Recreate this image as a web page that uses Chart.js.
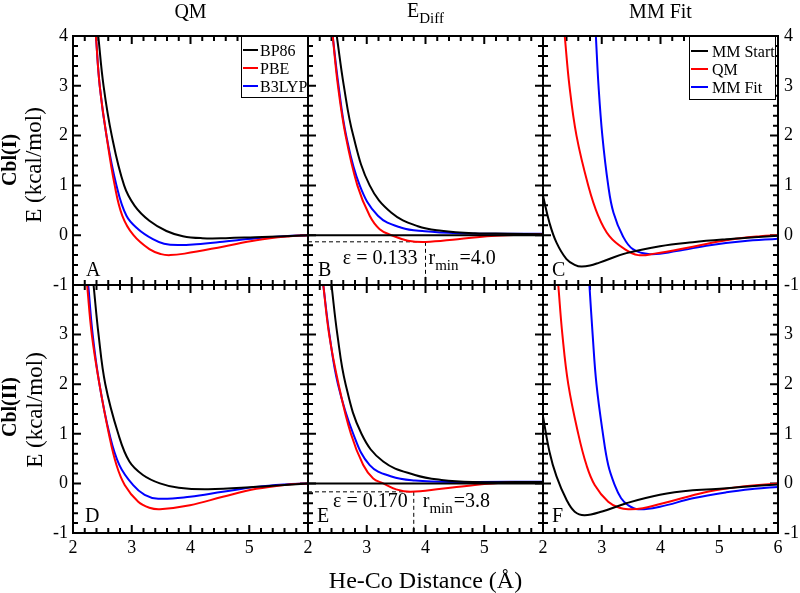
<!DOCTYPE html>
<html><head><meta charset="utf-8">
<script src="https://cdn.jsdelivr.net/npm/chart.js@4/dist/chart.umd.min.js"></script>
<style>
html,body{margin:0;padding:0;background:#fff;}
#wrap{position:relative;width:800px;height:593px;overflow:hidden;font-family:'Liberation Serif','Times New Roman',serif;color:#000;background:#fff;}
#wrap canvas{position:absolute;left:0;top:0;}
.t{position:absolute;white-space:nowrap;line-height:1;}
</style></head><body>
<div id="wrap">
<canvas id="c0" width="800" height="593"></canvas>
<canvas id="c1" width="800" height="593"></canvas>
<canvas id="c2" width="800" height="593"></canvas>
<canvas id="c3" width="800" height="593"></canvas>
<canvas id="c4" width="800" height="593"></canvas>
<canvas id="c5" width="800" height="593"></canvas>
<div class="t" style="left:190.5px;top:1px;font-size:20px;transform:translateX(-50%)">QM</div>
<div class="t" style="left:425.5px;top:0px;font-size:20px;transform:translateX(-50%)">E<span style="font-size:15px;position:relative;top:6px">Diff</span></div>
<div class="t" style="left:660.5px;top:1px;font-size:20px;transform:translateX(-50%)">MM Fit</div>
<div class="t" style="left:9px;top:160px;font-size:20px;font-weight:bold;transform:translate(-50%,-50%) rotate(-90deg)">Cbl(I)</div>
<div class="t" style="left:33px;top:165px;font-size:23px;transform:translate(-50%,-50%) rotate(-90deg)">E (kcal/mol)</div>
<div class="t" style="left:9px;top:407px;font-size:20px;font-weight:bold;transform:translate(-50%,-50%) rotate(-90deg)">Cbl(II)</div>
<div class="t" style="left:34px;top:410px;font-size:23px;transform:translate(-50%,-50%) rotate(-90deg)">E (kcal/mol)</div>
<div class="t" style="left:425.5px;top:568px;font-size:24px;transform:translateX(-50%)">He-Co Distance (Å)</div>
</div>
<script>
// ---------- data (He-Co distance in Å, energy in kcal/mol) ----------
const xRange = [2, 6];
const yRange = [-1, 4];
const xTickValues = [2, 3, 4, 5, 6];
const yTickValues = [-1, 0, 1, 2, 3, 4];
const minorPerMajor = 5;   // minor tick every 0.2

// Panel A: QM, Cbl(I)
const A_BP86  = [[2.43,4.0],[2.52,3.0],[2.66,2.0],[2.87,1.0],[3.05,0.59],[3.30,0.29],[3.59,0.085],[3.87,-0.02],[4.2,-0.06],[4.6,-0.06],[5.1,-0.04],[5.6,-0.02],[6.0,0.0]];
const A_PBE   = [[2.39,4.0],[2.455,3.0],[2.57,2.0],[2.71,1.0],[2.84,0.39],[3.03,0.0],[3.3,-0.28],[3.5,-0.38],[3.65,-0.40],[3.9,-0.37],[4.55,-0.23],[5.12,-0.10],[5.7,-0.02],[6.0,0.0]];
const A_B3LYP = [[2.39,4.0],[2.455,3.0],[2.57,2.0],[2.74,1.0],[2.91,0.39],[3.11,0.12],[3.36,-0.08],[3.55,-0.17],[3.8,-0.197],[4.1,-0.18],[4.55,-0.13],[5.12,-0.06],[5.6,-0.02],[6.0,0.0]];
// Panel B: E_Diff, Cbl(I)
const B_BP86  = [[2.49,4.0],[2.61,3.0],[2.77,2.0],[3.05,1.0],[3.42,0.45],[3.87,0.18],[4.27,0.09],[4.84,0.04],[5.4,0.03],[6.0,0.02]];
const B_PBE   = [[2.42,4.0],[2.51,3.0],[2.64,2.0],[2.84,1.0],[3.05,0.39],[3.22,0.12],[3.42,0.0],[3.7,-0.11],[4.0,-0.137],[4.55,-0.08],[5.12,-0.016],[5.6,0.01],[6.0,0.02]];
const B_B3LYP = [[2.42,4.0],[2.52,3.0],[2.65,2.0],[2.88,1.0],[3.19,0.39],[3.59,0.15],[3.99,0.08],[4.55,0.04],[5.2,0.03],[6.0,0.03]];
const B_ZERO  = [[2.0,0.0],[6.0,0.0]];
const B_eps = 0.133, B_rmin = 4.0;
// Panel C: MM Fit, Cbl(I)
const C_MMStart = [[2.0,0.79],[2.11,0.25],[2.23,-0.15],[2.40,-0.48],[2.55,-0.60],[2.65,-0.63],[2.8,-0.61],[2.96,-0.55],[3.42,-0.36],[3.99,-0.22],[4.55,-0.14],[5.12,-0.08],[5.6,-0.04],[6.0,-0.01]];
const C_QM      = [[2.37,4.0],[2.45,3.0],[2.57,2.0],[2.77,1.0],[2.94,0.39],[3.13,-0.02],[3.39,-0.28],[3.62,-0.40],[3.9,-0.37],[4.55,-0.23],[5.12,-0.10],[5.7,-0.02],[6.0,0.0]];
const C_MMFit   = [[2.90,4.0],[2.945,3.0],[3.01,2.0],[3.11,1.0],[3.2,0.45],[3.36,-0.02],[3.53,-0.28],[3.82,-0.38],[4.27,-0.32],[4.84,-0.20],[5.4,-0.12],[6.0,-0.07]];
// Panel D: QM, Cbl(II)
const D_BP86  = [[2.35,4.0],[2.435,3.0],[2.55,2.0],[2.77,1.0],[2.96,0.44],[3.19,0.17],[3.48,0.0],[3.8,-0.09],[4.3,-0.12],[5.12,-0.07],[5.6,-0.03],[6.0,0.0]];
const D_PBE   = [[2.24,4.0],[2.32,3.0],[2.45,2.0],[2.61,1.0],[2.74,0.37],[2.88,-0.03],[3.11,-0.37],[3.3,-0.49],[3.48,-0.52],[3.99,-0.44],[4.55,-0.27],[5.12,-0.11],[5.6,-0.03],[6.0,0.0]];
const D_B3LYP = [[2.26,4.0],[2.335,3.0],[2.45,2.0],[2.62,1.0],[2.79,0.37],[3.02,-0.03],[3.22,-0.23],[3.45,-0.31],[3.99,-0.27],[4.55,-0.17],[5.12,-0.07],[5.6,-0.02],[6.0,0.0]];
// Panel E: E_Diff, Cbl(II)
const E_BP86  = [[2.40,4.0],[2.50,3.0],[2.64,2.0],[2.91,1.0],[3.28,0.44],[3.82,0.17],[4.27,0.07],[4.8,0.03],[6.0,0.03]];
const E_PBE   = [[2.26,4.0],[2.36,3.0],[2.52,2.0],[2.73,1.0],[2.94,0.37],[3.11,0.1],[3.28,0.0],[3.5,-0.12],[3.75,-0.17],[4.27,-0.11],[4.84,-0.03],[5.4,0.02],[6.0,0.03]];
const E_B3LYP = [[2.26,4.0],[2.365,3.0],[2.51,2.0],[2.77,1.0],[3.05,0.37],[3.42,0.14],[3.82,0.06],[4.5,0.03],[6.0,0.035]];
const E_ZERO  = [[2.0,0.0],[6.0,0.0]];
const E_eps = 0.170, E_rmin = 3.8;
// Panel F: MM Fit, Cbl(II)
const F_MMStart = [[2.0,1.35],[2.11,0.64],[2.23,0.14],[2.40,-0.33],[2.54,-0.57],[2.71,-0.64],[3.02,-0.56],[3.42,-0.40],[3.99,-0.23],[4.55,-0.14],[5.12,-0.10],[5.6,-0.05],[6.0,-0.02]];
const F_QM      = [[2.26,4.0],[2.33,3.0],[2.43,2.0],[2.60,1.0],[2.74,0.37],[2.88,-0.03],[3.11,-0.37],[3.3,-0.49],[3.45,-0.52],[3.7,-0.50],[4.27,-0.33],[4.84,-0.16],[5.4,-0.06],[6.0,0.0]];
const F_MMFit   = [[2.79,4.0],[2.845,3.0],[2.91,2.0],[3.02,1.0],[3.11,0.37],[3.22,-0.03],[3.33,-0.30],[3.45,-0.44],[3.62,-0.52],[3.99,-0.47],[4.55,-0.30],[5.12,-0.18],[5.6,-0.11],[6.0,-0.07]];

const qmLegend = ['BP86', 'PBE', 'B3LYP'];
const mmLegend = ['MM Start', 'QM', 'MM Fit'];
const panelLetters = ['A','B','C','D','E','F'];

// ---------- styling ----------
const BLACK = '#000000', RED = '#ff0000', BLUE = '#0000ff';
const FONT = "'Liberation Serif', 'Times New Roman', serif";
const MAJOR_LEN = 8, MINOR_LEN = 5;   // tick lengths in px
Chart.defaults.font.family = FONT;
Chart.defaults.color = '#000';

const toXY = arr => arr.map(p => ({x: p[0], y: p[1]}));
const line = (arr, color, extra) => Object.assign({data: toXY(arr), borderColor: color, borderWidth: 2, pointRadius: 0, tension: 0.4, fill: false}, extra || {});
const dashed = (arr) => ({data: toXY(arr), borderColor: BLACK, borderWidth: 1, borderDash: [4,3], pointRadius: 0, tension: 0, fill: false});

const minorsOf = vals => {
  const out = [];
  for (let i = 0; i < vals.length - 1; i++)
    for (let k = 1; k < minorPerMajor; k++) out.push(vals[i] + (vals[i+1] - vals[i]) * k / minorPerMajor);
  return out;
};

// inward tick marks on all four sides, drawn as a broken line through the scales
function tickSet(box) {
  const [l, t, r, b] = box;
  const pxPerX = (r - l) / (xRange[1] - xRange[0]);
  const pxPerY = (b - t) / (yRange[1] - yRange[0]);
  const pts = [];
  const seg = (x1, y1, x2, y2) => { pts.push({x: x1, y: y1}, {x: x2, y: y2}, {x: x2, y: null}); };
  const addX = (vals, L) => vals.forEach(v => {
    const d = L / pxPerY;
    seg(v, yRange[0], v, yRange[0] + d);
    seg(v, yRange[1], v, yRange[1] - d);
  });
  const addY = (vals, L) => vals.forEach(v => {
    const d = L / pxPerX;
    seg(xRange[0], v, xRange[0] + d, v);
    seg(xRange[1], v, xRange[1] - d, v);
  });
  addX(minorsOf(xTickValues), MINOR_LEN);
  addY(minorsOf(yTickValues), MINOR_LEN);
  addX(xTickValues, MAJOR_LEN);
  addY(yTickValues, MAJOR_LEN);
  return {data: pts, borderColor: BLACK, borderWidth: 2, pointRadius: 0, tension: 0, spanGaps: false, fill: false, clip: 2};
}

const panels = [
  {id:'c0', box:[73,36,308,285], sets:[line(A_BP86,BLACK),line(A_PBE,RED),line(A_B3LYP,BLUE)],
   showX:false, showY:true, yPos:'left', hideX:[], hideY:[], legend:qmLegend, legendBox:[67,62], letterDX:13},
  {id:'c1', box:[308,36,543,285], sets:[line(B_ZERO,BLACK,{tension:0}),line(B_BP86,BLACK),line(B_PBE,RED),line(B_B3LYP,BLUE),
     dashed([[2,-B_eps],[B_rmin,-B_eps]]), dashed([[B_rmin,-B_eps],[B_rmin,-1]])],
   showX:false, showY:false, yPos:'left', hideX:[], hideY:[], diff:{eps:B_eps, rmin:B_rmin, epsGap:8, rGap:3, base:264}, letterDX:10},
  {id:'c2', box:[543,36,778,285], sets:[line(C_MMStart,BLACK),line(C_QM,RED),line(C_MMFit,BLUE)],
   showX:false, showY:true, yPos:'right', hideX:[], hideY:[], legend:mmLegend, legendBox:[87,64], letterDX:9},
  {id:'c3', box:[73,285,308,533], sets:[line(D_BP86,BLACK),line(D_PBE,RED),line(D_B3LYP,BLUE)],
   showX:true, showY:true, yPos:'left', hideX:[6], hideY:[4], letterDX:12},
  {id:'c4', box:[308,285,543,533], sets:[line(E_ZERO,BLACK,{tension:0}),line(E_BP86,BLACK),line(E_PBE,RED),line(E_B3LYP,BLUE),
     dashed([[2,-E_eps],[E_rmin,-E_eps]]), dashed([[E_rmin,-E_eps],[E_rmin,-1]])],
   showX:true, showY:false, yPos:'left', hideX:[6], hideY:[], diff:{eps:E_eps, rmin:E_rmin, epsGap:6, rGap:9, base:507}, letterDX:9},
  {id:'c5', box:[543,285,778,533], sets:[line(F_MMStart,BLACK),line(F_QM,RED),line(F_MMFit,BLUE)],
   showX:true, showY:true, yPos:'right', hideX:[], hideY:[4], letterDX:9},
];

function makeFramePlugin(p, idx) {
  return {
    id: 'frame' + idx,
    afterDatasetsDraw(chart) {
      const ctx = chart.ctx;
      const {left, right, top, bottom} = chart.chartArea;
      const xs = chart.scales.x;
      ctx.save();
      ctx.setLineDash([]);
      // frame
      ctx.strokeStyle = '#000000';
      ctx.lineWidth = 2;
      ctx.strokeRect(left, top, right - left, bottom - top);

      // legend
      if (p.legend) {
        const [w, h] = p.legendBox;
        const isR = p.yPos === 'right';
        const bx = right - w - (isR ? 2 : 0), by = top;
        ctx.fillStyle = '#fff';
        ctx.fillRect(bx, by, w, h);
        ctx.lineWidth = 1;
        ctx.strokeStyle = '#000';
        ctx.strokeRect(bx + 0.5, by + 0.5, w - 1, h - 1);
        ctx.font = "16px " + FONT;
        ctx.textBaseline = 'alphabetic';
        ctx.textAlign = 'left';
        const colors = [BLACK, RED, BLUE];
        const rowY = [14, 32, 50];
        p.legend.forEach((name, k) => {
          const y = by + rowY[k] + (isR ? 1 : 0);
          ctx.strokeStyle = colors[k];
          ctx.lineWidth = 2;
          ctx.beginPath();
          ctx.moveTo(bx + 2, y); ctx.lineTo(bx + (isR ? 19 : 17), y);
          ctx.stroke();
          ctx.fillStyle = '#000';
          ctx.fillText(name, bx + (isR ? 23 : 19), y + 5.5);
        });
      }

      // panel letter
      ctx.fillStyle = '#000';
      ctx.font = "20px " + FONT;
      ctx.textAlign = 'left';
      ctx.textBaseline = 'alphabetic';
      ctx.fillText(panelLetters[idx], left + p.letterDX, bottom - (idx < 3 ? 9 : 11));

      // epsilon / r_min annotation
      if (p.diff) {
        const d = p.diff;
        const rx = xs.getPixelForValue(d.rmin);
        ctx.font = "20px " + FONT;
        ctx.textAlign = 'right';
        ctx.fillText('\u03b5 = ' + d.eps.toFixed(3), rx - d.epsGap, d.base);
        ctx.textAlign = 'left';
        let x = rx + d.rGap;
        ctx.fillText('r', x, d.base);
        x += ctx.measureText('r').width;
        ctx.font = "15px " + FONT;
        ctx.fillText('min', x, d.base + 6);
        x += ctx.measureText('min').width + 1;
        ctx.font = "20px " + FONT;
        ctx.fillText('=' + d.rmin.toFixed(1), x, d.base);
      }
      ctx.restore();
    }
  };
}

const Y_LEFT_W = 40, Y_RIGHT_W = 22, X_H = 30;
panels.forEach((p, idx) => {
  const [l, t, r, b] = p.box;
  const isR = p.yPos === 'right';
  const yW = isR ? Y_RIGHT_W : Y_LEFT_W;
  new Chart(document.getElementById(p.id), {
    type: 'line',
    data: { datasets: p.sets.concat([tickSet(p.box)]) },
    options: {
      responsive: false, animation: false, devicePixelRatio: 1,
      layout: { padding: { left: isR ? l : l - yW, top: t, right: isR ? 800 - r - yW : 800 - r, bottom: 593 - b - X_H } },
      plugins: { legend: { display: false }, tooltip: { enabled: false } },
      scales: {
        x: {
          type: 'linear', min: xRange[0], max: xRange[1], position: 'bottom',
          grid: { display: false, drawTicks: false }, border: { display: false },
          ticks: { display: p.showX, stepSize: 1, padding: 4, maxRotation: 0, autoSkip: false,
                   font: { size: 18, family: FONT }, color: '#000',
                   callback: v => (p.hideX.includes(v) ? '' : String(v)) },
          afterFit: s => { s.height = X_H; }
        },
        y: {
          type: 'linear', min: yRange[0], max: yRange[1], position: p.yPos,
          grid: { display: false, drawTicks: false }, border: { display: false },
          ticks: { display: p.showY, stepSize: 1, padding: isR ? 6 : 5, autoSkip: false,
                   font: { size: 18, family: FONT }, color: '#000',
                   callback: v => (p.hideY.includes(v) ? '' : String(v)) },
          afterFit: s => { s.width = yW; }
        }
      }
    },
    plugins: [makeFramePlugin(p, idx)]
  });
});
</script>
</body></html>
